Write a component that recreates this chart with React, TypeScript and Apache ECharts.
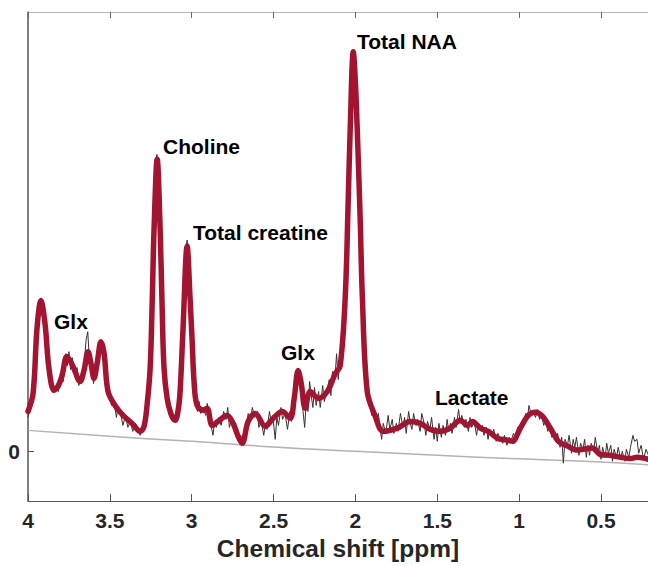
import React, { useEffect, useRef } from "react";
import * as echarts from "echarts";

const xTicks = [4, 3.5, 3, 2.5, 2, 1.5, 1, 0.5];
const yTicks = [0];
const X_MIN = 0.213;
const X_MAX = 4;
const Y_MIN = -0.125;
const Y_MAX = 1.1025;

const fitPpm = [
  4.0, 3.969, 3.945, 3.921, 3.896, 3.872, 3.841, 3.817, 3.792, 3.762, 3.725, 3.682, 3.658, 3.633, 3.615, 3.597,
  3.578, 3.554, 3.535, 3.511, 3.468, 3.419, 3.364, 3.315, 3.291, 3.273, 3.254, 3.242, 3.23, 3.211, 3.193, 3.181,
  3.169, 3.15, 3.126, 3.101, 3.083, 3.071, 3.053, 3.028, 3.01, 2.998, 2.985, 2.967, 2.93, 2.906, 2.875, 2.839,
  2.784, 2.747, 2.717, 2.692, 2.655, 2.612, 2.551, 2.502, 2.447, 2.399, 2.374, 2.35, 2.331, 2.307, 2.276, 2.227,
  2.172, 2.123, 2.093, 2.062, 2.044, 2.032, 2.013, 2.001, 1.989, 1.971, 1.958, 1.928, 1.879, 1.83, 1.745, 1.665,
  1.604, 1.543, 1.482, 1.421, 1.359, 1.317, 1.286, 1.237, 1.188, 1.133, 1.072, 1.042, 0.993, 0.944, 0.901, 0.858,
  0.809, 0.76, 0.705, 0.644, 0.608, 0.553, 0.504, 0.443, 0.381, 0.32, 0.278, 0.21,
];
const fitVal = [
  0.1, 0.145, 0.308, 0.378, 0.32, 0.208, 0.153, 0.163, 0.19, 0.238, 0.213, 0.175, 0.203, 0.25, 0.22, 0.183,
  0.22, 0.275, 0.245, 0.15, 0.115, 0.09, 0.07, 0.05, 0.063, 0.115, 0.208, 0.365, 0.558, 0.733, 0.558, 0.365,
  0.208, 0.133, 0.093, 0.078, 0.103, 0.15, 0.308, 0.515, 0.383, 0.283, 0.17, 0.115, 0.103, 0.108, 0.065, 0.075,
  0.09, 0.07, 0.038, 0.02, 0.075, 0.095, 0.063, 0.083, 0.1, 0.083, 0.133, 0.203, 0.17, 0.108, 0.15, 0.133,
  0.15, 0.195, 0.215, 0.39, 0.633, 0.808, 1.003, 0.933, 0.808, 0.583, 0.39, 0.15, 0.088, 0.05, 0.058, 0.075,
  0.07, 0.055, 0.05, 0.058, 0.078, 0.065, 0.075, 0.058, 0.05, 0.033, 0.028, 0.025, 0.058, 0.09, 0.098, 0.088,
  0.058, 0.025, 0.013, 0.003, 0.005, 0.008, -0.008, -0.01, -0.015, -0.018, -0.015, -0.02,
];

const rawPpm = [
  4.0, 3.99, 3.975, 3.96, 3.945, 3.93, 3.92, 3.905, 3.89, 3.875, 3.86, 3.845, 3.83, 3.815, 3.8, 3.785, 3.77, 3.76,
  3.75, 3.74, 3.73, 3.715, 3.7, 3.69, 3.675, 3.66, 3.645, 3.635, 3.625, 3.61, 3.6, 3.59, 3.575, 3.56, 3.545, 3.53,
  3.515, 3.5, 3.49, 3.475, 3.46, 3.45, 3.435, 3.42, 3.405, 3.39, 3.375, 3.36, 3.345, 3.33, 3.315, 3.3, 3.29, 3.275,
  3.262, 3.25, 3.24, 3.23, 3.22, 3.212, 3.205, 3.195, 3.185, 3.175, 3.165, 3.155, 3.14, 3.125, 3.11, 3.095, 3.08,
  3.068, 3.055, 3.045, 3.035, 3.028, 3.02, 3.01, 3.0, 2.99, 2.98, 2.965, 2.955, 2.945, 2.93, 2.915, 2.905, 2.895,
  2.88, 2.87, 2.86, 2.85, 2.835, 2.82, 2.805, 2.79, 2.78, 2.77, 2.755, 2.74, 2.725, 2.71, 2.7, 2.69, 2.68, 2.665,
  2.655, 2.64, 2.63, 2.615, 2.6, 2.59, 2.575, 2.56, 2.55, 2.54, 2.525, 2.515, 2.505, 2.49, 2.48, 2.47, 2.455, 2.445,
  2.43, 2.415, 2.4, 2.39, 2.38, 2.37, 2.36, 2.35, 2.34, 2.33, 2.32, 2.31, 2.3, 2.29, 2.28, 2.27, 2.26, 2.25, 2.24,
  2.225, 2.215, 2.2, 2.19, 2.175, 2.16, 2.15, 2.14, 2.125, 2.115, 2.105, 2.095, 2.085, 2.075, 2.065, 2.055, 2.045,
  2.035, 2.025, 2.015, 2.005, 1.995, 1.985, 1.975, 1.965, 1.955, 1.945, 1.935, 1.925, 1.91, 1.9, 1.89, 1.875, 1.86,
  1.85, 1.84, 1.83, 1.815, 1.8, 1.79, 1.775, 1.765, 1.75, 1.74, 1.725, 1.71, 1.7, 1.69, 1.675, 1.665, 1.655, 1.645,
  1.63, 1.62, 1.605, 1.595, 1.58, 1.57, 1.56, 1.545, 1.535, 1.52, 1.51, 1.5, 1.49, 1.475, 1.465, 1.45, 1.44, 1.43,
  1.42, 1.41, 1.395, 1.385, 1.37, 1.36, 1.35, 1.335, 1.325, 1.31, 1.3, 1.29, 1.275, 1.26, 1.25, 1.24, 1.225, 1.215,
  1.2, 1.19, 1.18, 1.165, 1.155, 1.14, 1.13, 1.115, 1.1, 1.09, 1.075, 1.06, 1.05, 1.035, 1.02, 1.01, 1.0, 0.985,
  0.975, 0.96, 0.95, 0.94, 0.925, 0.915, 0.9, 0.89, 0.875, 0.865, 0.85, 0.84, 0.825, 0.815, 0.8, 0.79, 0.775, 0.765,
  0.75, 0.74, 0.73, 0.72, 0.705, 0.695, 0.68, 0.67, 0.66, 0.65, 0.635, 0.625, 0.61, 0.6, 0.59, 0.58, 0.57, 0.56,
  0.545, 0.535, 0.52, 0.51, 0.5, 0.49, 0.475, 0.465, 0.455, 0.44, 0.43, 0.42, 0.405, 0.395, 0.38, 0.37, 0.355,
  0.345, 0.33, 0.32, 0.305, 0.295, 0.28, 0.27, 0.255, 0.24, 0.225, 0.21,
];
const rawVal = [
  0.085, 0.11, 0.135, 0.2, 0.3, 0.365, 0.385, 0.35, 0.285, 0.215, 0.175, 0.15, 0.165, 0.15, 0.185, 0.175, 0.245, 0.215,
  0.25, 0.205, 0.235, 0.195, 0.21, 0.165, 0.19, 0.205, 0.28, 0.3, 0.23, 0.215, 0.17, 0.195, 0.225, 0.27, 0.255, 0.215,
  0.16, 0.14, 0.115, 0.125, 0.085, 0.11, 0.095, 0.065, 0.09, 0.06, 0.075, 0.05, 0.07, 0.06, 0.04, 0.055, 0.075, 0.11,
  0.2, 0.33, 0.48, 0.62, 0.73, 0.745, 0.7, 0.56, 0.4, 0.25, 0.17, 0.12, 0.1, 0.085, 0.075, 0.09, 0.115,
  0.17, 0.3, 0.42, 0.51, 0.53, 0.47, 0.38, 0.27, 0.18, 0.125, 0.1, 0.125, 0.095, 0.11, 0.09, 0.12, 0.08,
  0.06, 0.04, 0.075, 0.06, 0.085, 0.065, 0.1, 0.08, 0.11, 0.06, 0.085, 0.05, 0.055, 0.03, 0.04, 0.015, 0.045, 0.07,
  0.095, 0.08, 0.11, 0.085, 0.1, 0.06, 0.075, 0.04, 0.07, 0.055, 0.1, 0.075, 0.09, 0.03, 0.085, 0.065, 0.11, 0.08,
  0.095, 0.055, 0.1, 0.075, 0.14, 0.12, 0.185, 0.205, 0.175, 0.15, 0.1, 0.06, 0.13, 0.1, 0.175, 0.14, 0.11, 0.16, 0.115,
  0.15, 0.11, 0.165, 0.125, 0.15, 0.18, 0.14, 0.2, 0.185, 0.245, 0.18, 0.23, 0.25, 0.3, 0.38, 0.5, 0.64,
  0.8, 0.93, 1.0, 0.95, 0.86, 0.72, 0.56, 0.42, 0.32, 0.23, 0.17, 0.13, 0.11, 0.09, 0.1, 0.07, 0.095,
  0.06, 0.03, 0.07, 0.045, 0.09, 0.055, 0.08, 0.045, 0.07, 0.05, 0.095, 0.06, 0.085, 0.045, 0.1, 0.07, 0.055, 0.095,
  0.065, 0.08, 0.05, 0.095, 0.07, 0.04, 0.075, 0.055, 0.085, 0.03, 0.06, 0.025, 0.07, 0.035, 0.065, 0.04, 0.08, 0.05,
  0.07, 0.045, 0.085, 0.06, 0.105, 0.07, 0.09, 0.06, 0.08, 0.05, 0.085, 0.06, 0.075, 0.04, 0.07, 0.055, 0.065, 0.04,
  0.06, 0.03, 0.055, 0.04, 0.055, 0.025, 0.045, 0.03, 0.02, 0.04, 0.015, 0.035, 0.025, 0.045, 0.03, 0.06, 0.045, 0.075,
  0.06, 0.095, 0.08, 0.115, 0.09, 0.1, 0.085, 0.105, 0.08, 0.095, 0.065, 0.08, 0.05, 0.065, 0.035, 0.055, 0.025, 0.045,
  0.01, 0.035, -0.03, 0.03, 0.015, 0.04, -0.005, 0.03, 0.01, 0.035, -0.01, 0.02, 0.005, 0.03, -0.015, 0.015, -0.01, 0.02,
  0.0, 0.035, -0.005, 0.015, -0.02, 0.01, -0.015, 0.02, -0.005, 0.015, -0.025, 0.005, -0.015, 0.01, -0.02, 0.0, -0.025,
  0.005, -0.015, 0.01, 0.04, 0.025, 0.03, -0.005, 0.015, -0.02, 0.005, -0.01,
];

const basePpm = [4.0, 3.5, 3.0, 2.5, 2.0, 1.5, 1.0, 0.5, 0.21];
const baseVal = [0.0525, 0.0375, 0.025, 0.011, 0.0, -0.01, -0.019, -0.027, -0.034];

const peakNames = ["Glx", "Choline", "Total creatine", "Glx", "Total NAA", "Lactate"];

const FONT = "'Liberation Sans', Arial, Helvetica, sans-serif";

export default function App() {
  const ref = useRef<HTMLDivElement>(null);
  useEffect(() => {
    if (!ref.current) return;
    const chart = echarts.init(ref.current, null, { renderer: "svg" });
    const pairs = (xs: number[], ys: number[]) => xs.map((x, i) => [x, ys[i]]);
    const labelPos = [
      [54, 321],
      [163, 146],
      [193, 232],
      [281, 352],
      [357, 41],
      [435, 397],
    ];
    chart.setOption({
      animation: false,
      grid: { left: 28, right: 0, top: 12, bottom: 63, containLabel: false },
      xAxis: [
        {
          type: "value",
          inverse: true,
          min: X_MIN,
          max: X_MAX,
          position: "bottom",
          axisLine: { show: true, onZero: false, lineStyle: { color: "#555", width: 1 } },
          axisTick: { show: true, inside: true, length: 7, customValues: xTicks, lineStyle: { color: "#555" } },
          axisLabel: {
            customValues: xTicks,
            fontSize: 21,
            fontWeight: "bold",
            color: "#262626",
            margin: 9,
            fontFamily: FONT,
          },
          splitLine: { show: false },
          name: "Chemical shift [ppm]",
          nameLocation: "middle",
          nameGap: 34,
          nameTextStyle: { fontSize: 24.5, fontWeight: "bold", color: "#262626", fontFamily: FONT },
        },
        {
          type: "value",
          inverse: true,
          min: X_MIN,
          max: X_MAX,
          position: "top",
          axisLine: { show: true, onZero: false, lineStyle: { color: "#b5b5b5", width: 1 } },
          axisTick: { show: true, inside: true, length: 6, customValues: xTicks, lineStyle: { color: "#666" } },
          axisLabel: { show: false },
          splitLine: { show: false },
        },
      ],
      yAxis: {
        type: "value",
        min: Y_MIN,
        max: Y_MAX,
        axisLine: { show: true, onZero: false, lineStyle: { color: "#555", width: 1.5 } },
        axisTick: { show: true, inside: true, length: 6, customValues: yTicks, lineStyle: { color: "#555" } },
        axisLabel: {
          customValues: yTicks,
          fontSize: 21,
          fontWeight: "bold",
          color: "#262626",
          margin: 8,
          fontFamily: FONT,
        },
        splitLine: { show: false },
      },
      series: [
        {
          type: "line",
          data: pairs(basePpm, baseVal),
          smooth: true,
          showSymbol: false,
          lineStyle: { color: "#b3b3b3", width: 1.5 },
          z: 1,
        },
        {
          type: "line",
          data: pairs(rawPpm, rawVal),
          showSymbol: false,
          lineStyle: { color: "#333", width: 1 },
          z: 2,
        },
        {
          type: "line",
          data: pairs(fitPpm, fitVal),
          smooth: 0.35,
          showSymbol: false,
          lineStyle: { color: "#a2142f", width: 5.5, cap: "round", join: "round" },
          z: 3,
        },
      ],
      graphic: peakNames.map((name, i) => ({
        type: "text",
        x: labelPos[i][0],
        y: labelPos[i][1],
        z: 10,
        style: {
          text: name,
          fill: "#000",
          fontSize: 21,
          fontWeight: "bold",
          fontFamily: FONT,
          textAlign: "left",
          textVerticalAlign: "middle",
        },
      })),
    });
    return () => chart.dispose();
  }, []);
  return <div ref={ref} style={{ position: "absolute", left: 0, top: 0, width: 648, height: 566 }} />;
}
